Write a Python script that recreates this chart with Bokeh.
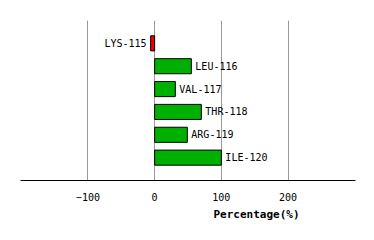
from bokeh.plotting import figure
from bokeh.models import ColumnDataSource, Range1d, Title, FixedTicker
from bokeh.core.properties import value
from bokeh.embed import file_html
from bokeh.resources import INLINE

residues = ["LYS-115", "LEU-116", "VAL-117", "THR-118", "ARG-119", "ILE-120"]
percentages = [-6, 55, 31, 70, 49, 100]
x_ticks = [-100, 0, 100, 200]

n = len(residues)
ypos = [n - 1 - i for i in range(n)]
colors = ["#00b000" if v >= 0 else "#ee0000" for v in percentages]
pos_idx = [i for i, v in enumerate(percentages) if v >= 0]
neg_idx = [i for i, v in enumerate(percentages) if v < 0]

src = ColumnDataSource(dict(y=ypos, v=percentages, c=colors, name=residues))
pos_src = ColumnDataSource(dict(y=[ypos[i] for i in pos_idx], v=[percentages[i] for i in pos_idx],
                                name=[residues[i] for i in pos_idx]))
neg_src = ColumnDataSource(dict(y=[ypos[i] for i in neg_idx], v=[percentages[i] for i in neg_idx],
                                name=[residues[i] for i in neg_idx]))

p = figure(width=374, height=240, output_backend="svg", toolbar_location=None,
           x_range=Range1d(-201, 301), y_range=Range1d(-1, n),
           min_border_left=20, min_border_right=19, min_border_top=20, min_border_bottom=60)
p.outline_line_color = None
p.background_fill_color = "white"
p.border_fill_color = "white"

p.hbar(y="y", left=0, right="v", height=0.66, fill_color="c", line_color="black",
       line_width=1, source=src)

font = value("DejaVu Sans Mono")
p.text(x="v", y="y", text="name", source=pos_src, x_offset=4, text_align="left",
       text_baseline="middle", text_font=font, text_font_size="10px", text_color="black")
p.text(x="v", y="y", text="name", source=neg_src, x_offset=-4, text_align="right",
       text_baseline="middle", text_font=font, text_font_size="10px", text_color="black")

p.yaxis.visible = False
p.ygrid.grid_line_color = None
p.xgrid.grid_line_color = "#999999"
p.xgrid.grid_line_width = 1
p.xaxis.ticker = FixedTicker(ticks=x_ticks)
p.xaxis.axis_line_color = "black"
p.xaxis.axis_line_width = 1
p.xaxis.major_tick_line_color = None
p.xaxis.minor_tick_line_color = None
p.xaxis.major_tick_out = 0
p.xaxis.major_label_standoff = 12
p.xaxis.major_label_text_font = "DejaVu Sans Mono"
p.xaxis.major_label_text_font_size = "10px"
p.xaxis.major_label_text_color = "black"

p.add_layout(Title(text="Percentage(%)", align="right", offset=56, standoff=4,
                   text_font="DejaVu Sans Mono", text_font_size="11px",
                   text_font_style="bold", text_color="black"), "below")

open("out.html", "w").write(file_html(p, INLINE))
